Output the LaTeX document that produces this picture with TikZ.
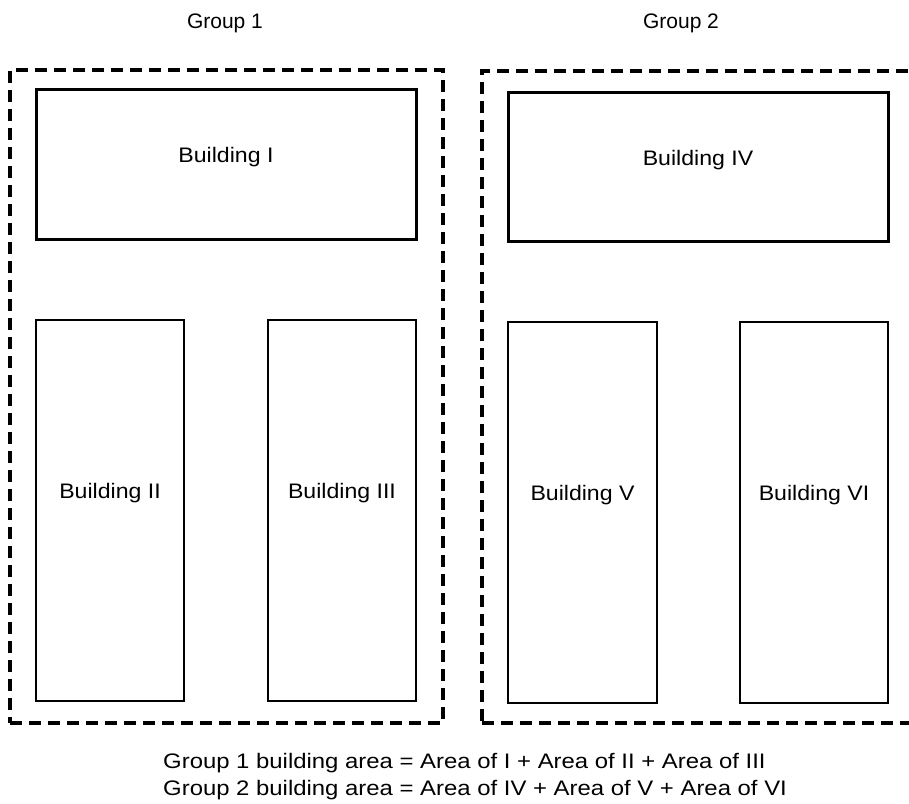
\documentclass[tikz,border=0pt]{standalone}
\usepackage{fontspec}
\setmainfont{Liberation Sans}
\begin{document}
\begin{tikzpicture}[x=1pt,y=1pt,
  groupbox/.style={draw, line width=3.5pt, dash pattern=on 12pt off 7pt, inner sep=0pt},
  bldg/.style={draw, line width=3pt, inner sep=0pt},
  lbl/.style={font=\fontsize{21}{25}\selectfont, inner sep=0pt},
  txt/.style={font=\fontsize{21}{25}\selectfont, inner sep=0pt, anchor=base west}]
\clip (0,0) rectangle (909,-803);
\fill[white] (0,0) rectangle (909,-803);
% groups
\node[groupbox, minimum width=433pt, minimum height=653pt] (g1) at (226.5,-396.5) {};
\node[groupbox, minimum width=438pt, minimum height=652pt] (g2) at (701,-397) {};
\node[lbl] (g1l) at (225,-23) {Group 1};
\node[lbl] (g2l) at (681,-23) {Group 2};
% buildings
\node[bldg, minimum width=380pt, minimum height=150pt] (b1) at (226,-164) {};
\node[bldg, line width=2.5pt, minimum width=148pt, minimum height=381pt] (b2) at (110,-510.5) {};
\node[bldg, line width=2.5pt, minimum width=148pt, minimum height=381pt] (b3) at (342,-510.5) {};
\node[bldg, minimum width=380pt, minimum height=149pt] (b4) at (698,-166.5) {};
\node[bldg, line width=2.5pt, minimum width=149pt, minimum height=381pt] (b5) at (582.5,-512.5) {};
\node[bldg, line width=2.5pt, minimum width=148pt, minimum height=381pt] (b6) at (814,-512.5) {};
\node[lbl] (l1) at (226,-157) {\scalebox{1.1}[1]{Building I}};
\node[lbl] (l2) at (110,-493) {\scalebox{1.1}[1]{Building II}};
\node[lbl] (l3) at (342,-493) {\scalebox{1.1}[1]{Building III}};
\node[lbl] (l4) at (698,-160) {\scalebox{1.1}[1]{Building IV}};
\node[lbl] (l5) at (582.5,-495) {\scalebox{1.1}[1]{Building V}};
\node[lbl] (l6) at (814,-495) {\scalebox{1.1}[1]{Building VI}};
% formulas
\node[txt] (t1) at (163,-768) {\scalebox{1.138}[1]{Group 1 building area = Area of I + Area of II + Area of III}};
\node[txt] (t2) at (163,-795) {\scalebox{1.138}[1]{Group 2 building area = Area of IV + Area of V + Area of VI}};
\end{tikzpicture}
\end{document}
